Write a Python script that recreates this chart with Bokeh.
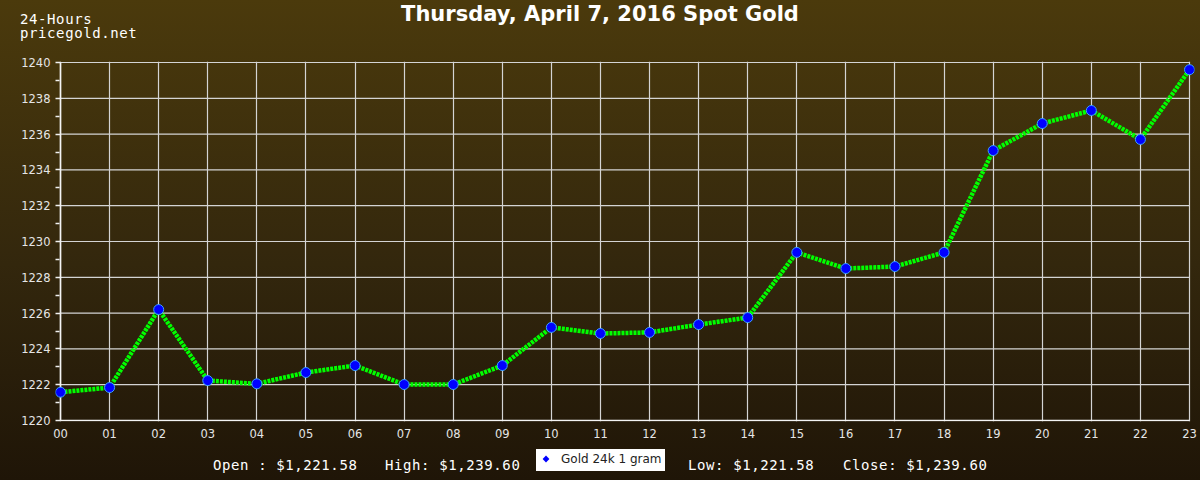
from bokeh.plotting import figure
from bokeh.models import Range1d, FixedTicker, Div
from bokeh.layouts import column
from bokeh.embed import file_html
from bokeh.resources import INLINE

hours = ["00", "01", "02", "03", "04", "05", "06", "07", "08", "09", "10", "11",
         "12", "13", "14", "15", "16", "17", "18", "19", "20", "21", "22", "23"]
prices = [1221.58, 1221.84, 1226.20, 1222.23, 1222.05, 1222.68, 1223.07, 1222.01,
          1222.01, 1223.07, 1225.20, 1224.86, 1224.92, 1225.36, 1225.75, 1229.39,
          1228.49, 1228.60, 1229.39, 1235.08, 1236.59, 1237.32, 1235.70, 1239.60]
title_text = "Thursday, April 7, 2016 Spot Gold"
site_lines = ["24-Hours", "pricegold.net"]
series_name = "Gold 24k 1 gram"
y_ticks = list(range(1220, 1241, 2))
y_minor = list(range(1221, 1240, 2))

xs = list(range(len(hours)))
x_last = len(hours) - 1
y_lo, y_hi = y_ticks[0], y_ticks[-1]
# a few pixels of padding so the end markers and edge lines are not cut
pad_x = 5 * x_last / 1129.0
pad_y = 1 * (y_hi - y_lo) / 358.0

p = figure(width=1200, height=395, output_backend="svg", toolbar_location=None,
           x_range=Range1d(-pad_x, x_last + pad_x), y_range=Range1d(y_lo - pad_y, y_hi + pad_y),
           min_border_left=55, min_border_right=6, min_border_top=11, min_border_bottom=24)
p.border_fill_alpha = 0
p.background_fill_alpha = 0
p.outline_line_color = None
p.margin = 0

grid_col = "#d4d4d4"
p.xgrid.ticker = FixedTicker(ticks=xs)
p.xgrid.grid_line_color = grid_col
p.xgrid.grid_line_width = 1.2
p.ygrid.visible = False
p.segment(x0=[0] * len(y_ticks), x1=[x_last] * len(y_ticks), y0=y_ticks, y1=y_ticks,
          line_color=grid_col, line_width=1.2)
# axis lines (left at hour 00, bottom at the lowest tick)
p.segment(x0=[0, 0], x1=[0, x_last], y0=[y_lo, y_lo], y1=[y_hi, y_lo],
          line_color="#f4f4f4", line_width=1.6)

p.xaxis.ticker = FixedTicker(ticks=xs)
p.xaxis.major_label_overrides = {i: h for i, h in enumerate(hours)}
p.yaxis.ticker = FixedTicker(ticks=y_ticks, minor_ticks=y_minor)
for ax in (p.xaxis[0], p.yaxis[0]):
    ax.axis_line_color = None
    ax.major_tick_line_color = "#f0f0f0"
    ax.minor_tick_line_color = "#f0f0f0"
    ax.major_tick_line_width = 1.3
    ax.minor_tick_line_width = 1.3
    ax.major_tick_out = 0
    ax.minor_tick_out = 0
    ax.major_label_text_color = "#e6e6e6"
    ax.major_label_text_font = "DejaVu Sans"
    ax.major_label_text_font_size = "11.5px"
p.xaxis.major_tick_in = 0
p.xaxis.minor_tick_in = 0
p.xaxis.major_label_standoff = 7
p.yaxis.major_tick_in = 5
p.yaxis.minor_tick_in = 4
p.yaxis.major_label_standoff = 5

p.line(xs, prices, line_color="#00ff00", line_width=4.5, line_dash="3 1")
p.scatter(xs, prices, marker="circle", size=10, fill_color="#0000ff", line_color="#3aa0ff", line_width=1)

mono = "'DejaVu Sans Mono', 'Liberation Mono', monospace"
top_html = f"""
<div style="position:relative;width:1200px;height:50px;color:white;">
  <div style="position:absolute;left:0;top:2px;width:1200px;text-align:center;
       font-family:'DejaVu Sans';font-weight:bold;font-size:21px;line-height:24px;">{title_text}</div>
  <div style="position:absolute;left:20px;top:12px;font-family:{mono};font-size:14px;
       letter-spacing:0.6px;line-height:14px;white-space:pre;">{site_lines[0]}<br>{site_lines[1]}</div>
</div>"""

o, h, l, c = prices[0], max(prices), min(prices), prices[-1]
stats = [(213, f"Open : ${o:,.2f}"), (385, f"High: ${h:,.2f}"),
         (688, f"Low: ${l:,.2f}"), (843, f"Close: ${c:,.2f}")]
stat_html = "".join(
    f'<div style="position:absolute;left:{x}px;top:12px;font-family:{mono};font-size:14px;'
    f'letter-spacing:0.6px;line-height:16px;white-space:pre;">{t}</div>' for x, t in stats)
bottom_html = f"""
<div style="position:relative;width:1200px;height:35px;color:white;">
  {stat_html}
  <div style="position:absolute;left:536px;top:4px;width:129px;height:22px;background:white;"></div>
  <div style="position:absolute;left:543px;top:11px;width:6px;height:6px;background:#0000ff;
       transform:rotate(45deg) scale(0.8);"></div>
  <div style="position:absolute;left:561px;top:7px;font-family:'DejaVu Sans';font-size:12px;
       line-height:15px;color:#222;white-space:pre;">{series_name}</div>
</div>"""

top = Div(text=top_html, width=1200, height=50, margin=0)
bottom = Div(text=bottom_html, width=1200, height=35, margin=0)

layout = column(top, p, bottom, spacing=0, margin=0,
                styles={"background": "linear-gradient(to bottom, #4b3a0c 0%, #33270d 55%, #1f1507 100%)"})

open("out.html", "w").write(file_html(layout, INLINE))
